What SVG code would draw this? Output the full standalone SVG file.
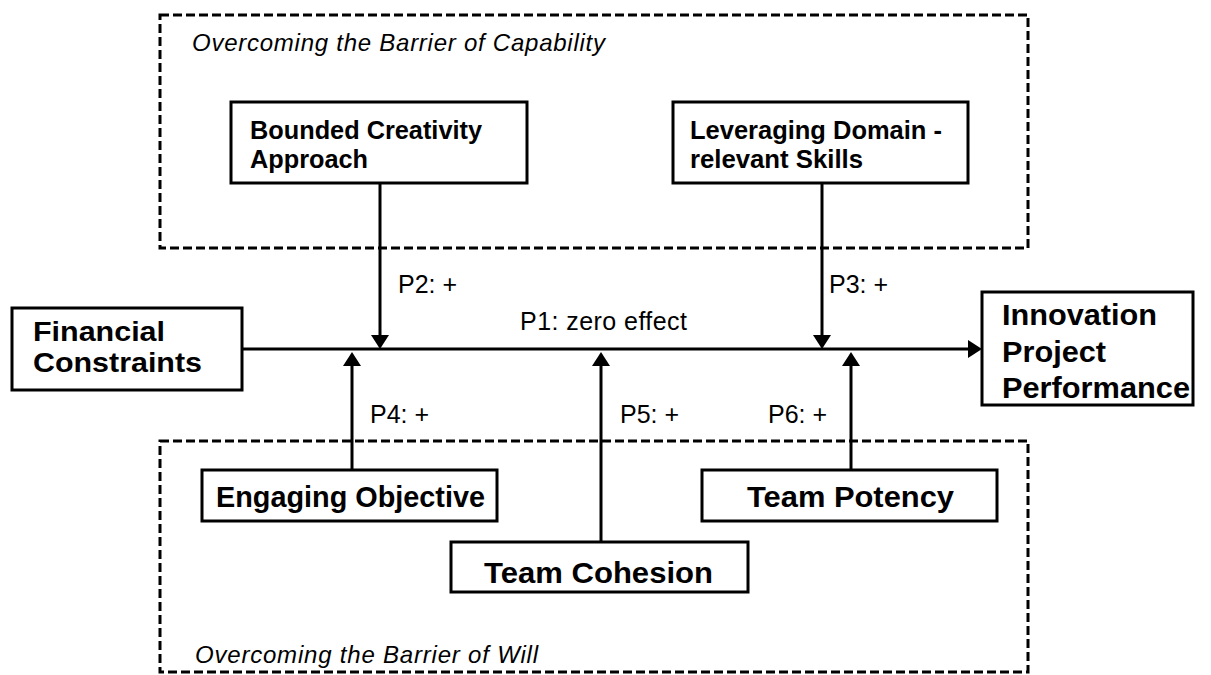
<svg xmlns="http://www.w3.org/2000/svg" width="1211" height="675" viewBox="0 0 1211 675">
<defs>
<style>
.box{fill:#fff;stroke:#000;stroke-width:3}
.grp{fill:none;stroke:#000;stroke-width:3;stroke-dasharray:9 4}
.ln{stroke:#000;stroke-width:3;fill:none}
.bs{font-family:"Liberation Sans",Arial,sans-serif;font-weight:bold;font-size:26px;fill:#000}
.bl{font-family:"Liberation Sans",Arial,sans-serif;font-weight:bold;font-size:30px;fill:#000}
.bf{font-family:"Liberation Sans",Arial,sans-serif;font-weight:bold;font-size:28px;fill:#000}
.lab{font-family:"Liberation Sans",Arial,sans-serif;font-size:25px;fill:#000}
.ttl{font-family:"Liberation Sans",Arial,sans-serif;font-style:italic;font-size:24px;fill:#000}
</style>
<marker id="ah" markerUnits="userSpaceOnUse" markerWidth="14" markerHeight="18" refX="6" refY="9" orient="auto">
<path d="M0,0 L14,9 L0,18 z" fill="#000"/>
</marker>
</defs>
<g id="group-capability">
<rect class="grp" x="160" y="15" width="868" height="233"/>
<text class="ttl" x="192" y="51" textLength="413" lengthAdjust="spacing">Overcoming the Barrier of Capability</text>
</g>
<g id="group-will">
<rect class="grp" x="160" y="441" width="868" height="231"/>
<text class="ttl" x="195" y="663" textLength="343" lengthAdjust="spacing">Overcoming the Barrier of Will</text>
</g>
<g id="connectors">
<line class="ln" x1="242" y1="349" x2="974" y2="349" marker-end="url(#ah)"/>
<line class="ln" x1="380" y1="183" x2="380" y2="341" marker-end="url(#ah)"/>
<line class="ln" x1="822" y1="183" x2="822" y2="341" marker-end="url(#ah)"/>
<line class="ln" x1="352" y1="470" x2="352" y2="360" marker-end="url(#ah)"/>
<line class="ln" x1="601" y1="542" x2="601" y2="360" marker-end="url(#ah)"/>
<line class="ln" x1="851" y1="470" x2="851" y2="360" marker-end="url(#ah)"/>
<text class="lab" x="520" y="330" textLength="167" lengthAdjust="spacing">P1: zero effect</text>
<text class="lab" x="398" y="293">P2: +</text>
<text class="lab" x="829" y="293">P3: +</text>
<text class="lab" x="370" y="423">P4: +</text>
<text class="lab" x="620" y="423">P5: +</text>
<text class="lab" x="768" y="423">P6: +</text>
</g>
<g id="node-bounded">
<rect class="box" x="231" y="102" width="296" height="81"/>
<text class="bs" x="250" y="139" textLength="232" lengthAdjust="spacingAndGlyphs">Bounded Creativity</text>
<text class="bs" x="250" y="168" textLength="118" lengthAdjust="spacingAndGlyphs">Approach</text>
</g>
<g id="node-leveraging">
<rect class="box" x="673" y="102" width="295" height="81"/>
<text class="bs" x="690" y="139" textLength="252" lengthAdjust="spacingAndGlyphs">Leveraging Domain -</text>
<text class="bs" x="690" y="168" textLength="173" lengthAdjust="spacingAndGlyphs">relevant Skills</text>
</g>
<g id="node-financial">
<rect class="box" x="12" y="308" width="230" height="82"/>
<text class="bf" x="33" y="341" textLength="132" lengthAdjust="spacingAndGlyphs">Financial</text>
<text class="bf" x="33" y="372" textLength="169" lengthAdjust="spacingAndGlyphs">Constraints</text>
</g>
<g id="node-innovation">
<rect class="box" x="982" y="292" width="211" height="113"/>
<text class="bl" x="1002" y="325" textLength="155" lengthAdjust="spacingAndGlyphs">Innovation</text>
<text class="bl" x="1002" y="362" textLength="104" lengthAdjust="spacingAndGlyphs">Project</text>
<text class="bl" x="1002" y="398" textLength="188" lengthAdjust="spacingAndGlyphs">Performance</text>
</g>
<g id="node-engaging">
<rect class="box" x="202" y="470" width="295" height="51"/>
<text class="bl" x="216" y="507" textLength="269" lengthAdjust="spacingAndGlyphs">Engaging Objective</text>
</g>
<g id="node-cohesion">
<rect class="box" x="451" y="542" width="297" height="50"/>
<text class="bl" x="484" y="583" textLength="229" lengthAdjust="spacingAndGlyphs">Team Cohesion</text>
</g>
<g id="node-potency">
<rect class="box" x="702" y="470" width="295" height="51"/>
<text class="bl" x="747" y="507" textLength="207" lengthAdjust="spacingAndGlyphs">Team Potency</text>
</g>
</svg>
